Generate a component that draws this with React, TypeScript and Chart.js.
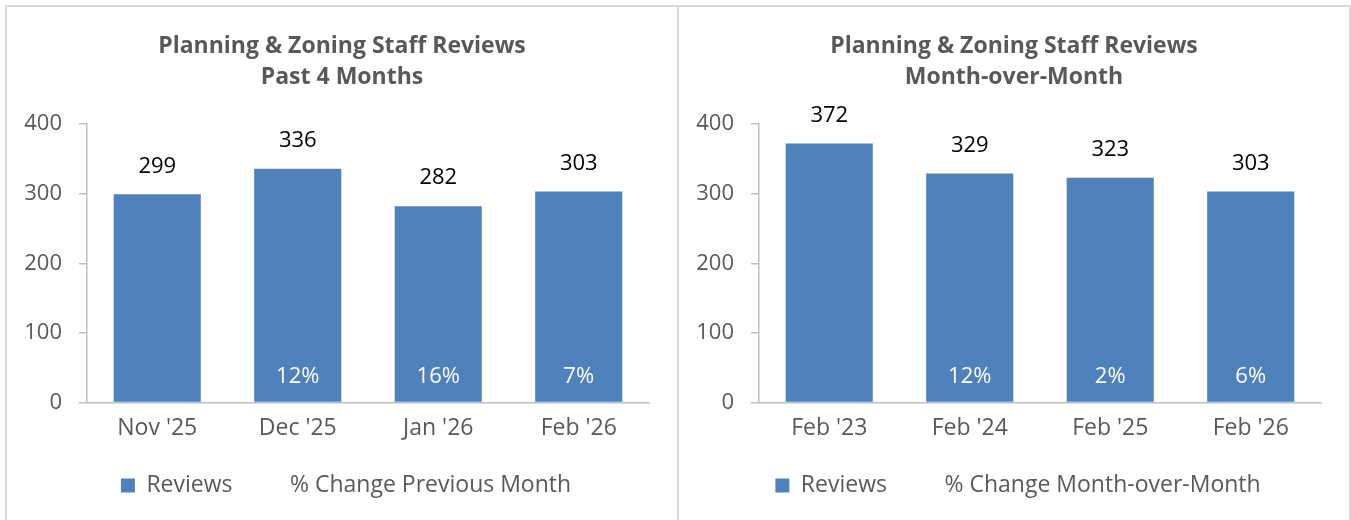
import React, { useEffect, useRef } from "react";
import { Chart, registerables } from "chart.js";

Chart.register(...registerables);

const leftTitle = ["Planning & Zoning Staff Reviews", "Past 4 Months"];
const leftCategories = ["Nov '25", "Dec '25", "Jan '26", "Feb '26"];
const leftReviews = [299, 336, 282, 303];
const leftPctChange: (number | null)[] = [null, 12, 16, 7];
const leftPctLabel = "% Change Previous Month";

const rightTitle = ["Planning & Zoning Staff Reviews", "Month-over-Month"];
const rightCategories = ["Feb '23", "Feb '24", "Feb '25", "Feb '26"];
const rightReviews = [372, 329, 323, 303];
const rightPctChange: (number | null)[] = [null, 12, 2, 6];
const rightPctLabel = "% Change Month-over-Month";

const reviewsLabel = "Reviews";
const yMin = 0;
const yMax = 400;
const yStep = 100;

const FONT = '"Open Sans", "Noto Sans", sans-serif';
const BAR = "#4f81bd";
const GREY = "#595959";
const AXIS = "#bfbfbf";

const labelPlugin = {
  id: "barLabels",
  afterLayout(chart: any) {
    const lg = chart.legend;
    if (lg) {
      lg.left += 4;
      lg.right += 4;
    }
  },
  afterDatasetsDraw(chart: any) {
    const ctx = chart.ctx;
    const y = chart.scales.y;
    const barMeta = chart.getDatasetMeta(0);
    const bars = chart.data.datasets[0].data;
    const pcts = chart.data.datasets[1].data;
    ctx.save();
    ctx.font = `22px ${FONT}`;
    ctx.textAlign = "center";
    ctx.textBaseline = "middle";
    barMeta.data.forEach((el: any, i: number) => {
      ctx.fillStyle = "#000000";
      ctx.fillText(String(bars[i]), el.x, el.y - 28);
      const p = pcts[i];
      if (p !== null && p !== undefined) {
        ctx.fillStyle = "#ffffff";
        ctx.fillText(`${p}%`, el.x, y.getPixelForValue(0) - 26);
      }
    });
    ctx.restore();
  },
};

function BarPanel(props: {
  title: string[];
  categories: string[];
  reviews: number[];
  pct: (number | null)[];
  pctLabel: string;
}) {
  const ref = useRef<HTMLCanvasElement | null>(null);
  useEffect(() => {
    if (!ref.current) return;
    const chart = new Chart(ref.current, {
      type: "bar",
      data: {
        labels: props.categories,
        datasets: [
          {
            type: "bar",
            label: reviewsLabel,
            data: props.reviews,
            backgroundColor: BAR,
            borderWidth: 0,
            categoryPercentage: 1,
            barPercentage: 0.62,
            yAxisID: "y",
          } as any,
          {
            type: "line",
            label: props.pctLabel,
            data: props.pct,
            showLine: false,
            pointRadius: 0,
            backgroundColor: "rgba(0,0,0,0)",
            borderColor: "rgba(0,0,0,0)",
            borderWidth: 0,
            yAxisID: "y",
          } as any,
        ],
      },
      options: {
        responsive: false,
        maintainAspectRatio: false,
        animation: false,
        layout: { padding: { left: 0, right: 0, top: 0, bottom: 13 } },
        plugins: {
          tooltip: { enabled: false },
          title: {
            display: true,
            text: props.title,
            color: GREY,
            font: { family: FONT, size: 23, weight: "bold", lineHeight: 1.35 },
            padding: { top: 24, bottom: 31 },
          },
          legend: {
            display: true,
            position: "bottom",
            labels: {
              color: GREY,
              font: { family: FONT, size: 23 },
              boxWidth: 14,
              boxHeight: 14,
              padding: 32,
            },
          },
        },
        scales: {
          x: {
            grid: { display: false, drawTicks: true, tickLength: 12 },
            border: { display: true, color: AXIS, width: 1.5 },
            ticks: { color: GREY, font: { family: FONT, size: 23 }, padding: 0 },
          },
          y: {
            min: yMin,
            max: yMax,
            afterFit: (s: any) => {
              s.width = 80;
            },
            ticks: { stepSize: yStep, color: GREY, font: { family: FONT, size: 22 }, padding: 17 },
            grid: { display: true, drawOnChartArea: false, drawTicks: true, tickLength: 8, color: AXIS, lineWidth: 1.5 },
            border: { display: true, color: AXIS, width: 1.5 },
          },
          spacer: {
            position: "right",
            display: true,
            grid: { display: false, drawTicks: false },
            border: { display: false },
            ticks: { display: false },
            afterFit: (s: any) => {
              s.width = 28;
            },
          },
        },
      } as any,
      plugins: [labelPlugin],
    });
    return () => chart.destroy();
  }, []);
  return <canvas ref={ref} width={670} height={513} style={{ display: "block" }} />;
}

export default function App() {
  return (
    <div
      style={{
        position: "absolute",
        left: 5,
        top: 5,
        width: 1346,
        height: 515,
        boxSizing: "border-box",
        borderTop: "2px solid #d9d9d9",
        borderLeft: "2px solid #d9d9d9",
        borderRight: "2px solid #d9d9d9",
        display: "flex",
        background: "#ffffff",
      }}
    >
      <div style={{ width: 670, height: 513, borderRight: "2px solid #d9d9d9" }}>
        <BarPanel title={leftTitle} categories={leftCategories} reviews={leftReviews} pct={leftPctChange} pctLabel={leftPctLabel} />
      </div>
      <div style={{ width: 670, height: 513 }}>
        <BarPanel title={rightTitle} categories={rightCategories} reviews={rightReviews} pct={rightPctChange} pctLabel={rightPctLabel} />
      </div>
    </div>
  );
}
